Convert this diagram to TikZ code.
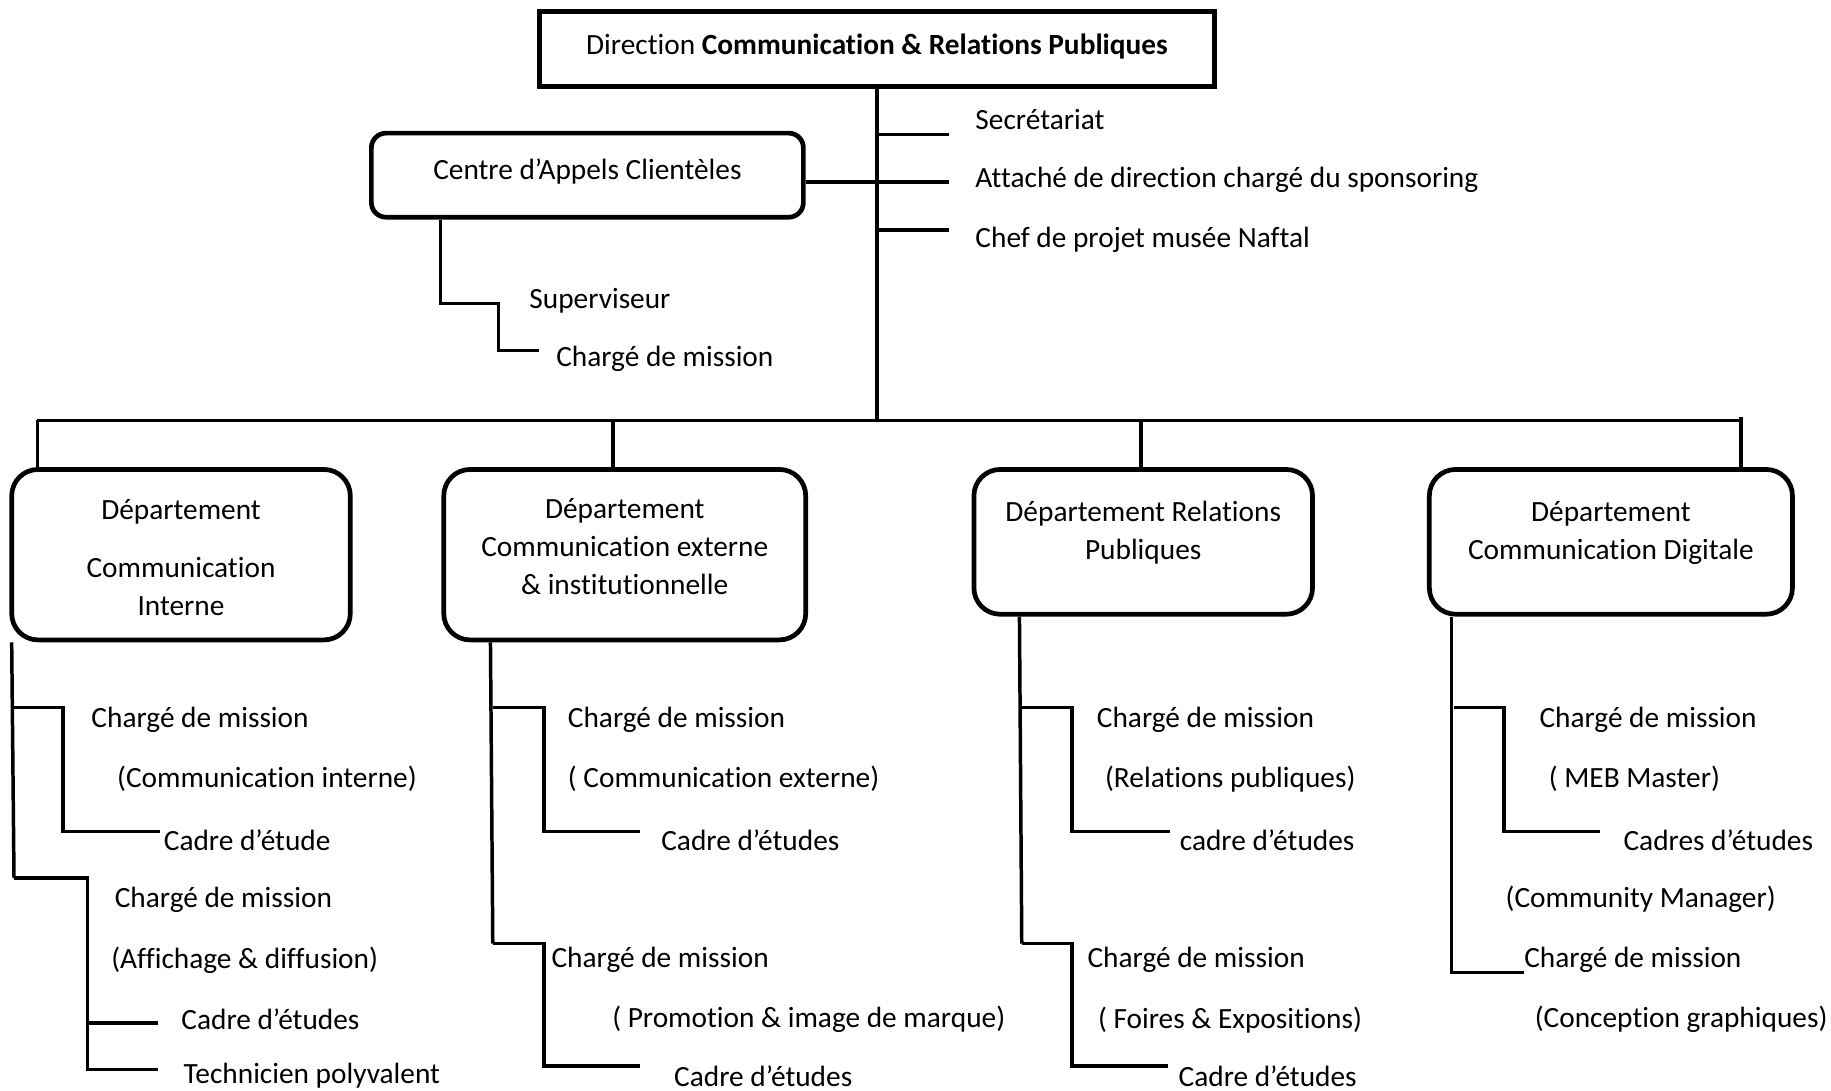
\documentclass[tikz,border=0pt]{standalone}
\usepackage{fontspec}
\setmainfont{Carlito}[Ligatures=NoCommon]
\usetikzlibrary{positioning, calc}

% box text moved up/down without changing the box
\newcommand{\lift}[2]{\raisebox{#1}[\height][\depth]{\begin{tabular}{@{}c@{}}#2\end{tabular}}}

\begin{document}
\begin{tikzpicture}[
  x=0.02cm, y=-0.02cm,
  every node/.style={font=\fontsize{14.3}{18.5}\selectfont},
  topbox/.style={draw, line width=2.6pt, minimum width=11.56cm, minimum height=1.28cm},
  callbox/.style={draw, fill=white, line width=2.3pt, rounded corners=0.25cm,
                  minimum width=7.4cm, minimum height=1.44cm},
  dept/.style={draw, fill=white, line width=2.3pt, rounded corners=0.45cm,
               minimum height=2.92cm},
  post/.style={anchor=west, inner sep=0pt, yshift=-0.045cm},
  link/.style={line width=1.7pt},
]
\useasboundingbox (0,0) rectangle (1568,934);

%% ---- Direction ----
\node[topbox] (dir) at (751,42) {\lift{1.1pt}{Direction \textbf{Communication \& Relations Publiques}}};

\node[post] (secr)  at (835,100) {Secrétariat};
\node[post] (spons) at (835,152) {Attaché de direction chargé du sponsoring};
\node[post] (musee) at (835,203) {Chef de projet musée Naftal};

\coordinate (hub) at (751,360);
\coordinate (t1) at (813,115);
\coordinate (t2) at (813,156);
\coordinate (t3) at (813,197);

\draw[link] (dir.south) -- (hub);
\foreach \t in {t1,t2,t3}
  \draw[link] (\t -| hub) -- (\t);

%% ---- Centre d'appels ----
\node[callbox] (cac) at (503,150) {\lift{1.7pt}{Centre d’Appels Clientèles}};
\draw[link] ([yshift=-0.12cm]cac.east) -- ([yshift=-0.12cm]cac.east -| hub);

\node[post] (sup)  at (453,255) {Superviseur};
\node[post] (cdm0) at (476,305) {Chargé de mission};

\coordinate (cac1) at (427,260);
\coordinate (cac2) at (462,300);
\draw[link] ($(cac.south west)+(61,0)$) |- (cac1) |- (cac2);

%% ---- Departments ----
\node[dept, minimum width=5.8cm] (d1) at (155,475)
  {\lift{-2.6pt}{Département\\[10pt]Communication\\Interne}};
\node[dept, minimum width=6.2cm] (d2) at (535,475)
  {\lift{2.8pt}{Département\\Communication externe\\\& institutionnelle}};
\node[dept, minimum width=5.8cm, minimum height=2.48cm] (d3) at (979,464)
  {\lift{4.2pt}{Département Relations\\Publiques}};
\node[dept, minimum width=6.22cm, minimum height=2.48cm] (d4) at (1379.5,464)
  {\lift{4.2pt}{Département\\Communication Digitale}};

\coordinate (bus1) at (32,360);
\coordinate (bus2) at (525,360);
\coordinate (bus3) at (977,360);
\coordinate (bus4) at (1491,360);

\draw[link] (bus1) -- (bus4);
\draw[link] (bus1) -- (bus1 |- d1.north);
\draw[link] (bus2) -- (bus2 |- d2.north);
\draw[link] (bus3) -- (bus3 |- d3.north);
\draw[link] ([yshift=0.06cm]bus4) -- (bus4 |- d4.north);

%% ---- Communication interne ----
\node[post] (d1p1)  at (78,614)  {Chargé de mission};
\node[post] (d1p1b) at (100,665) {(Communication interne)};
\node[post] (d1p2)  at (140,717) {Cadre d’étude};
\node[post] (d1p3)  at (98,768)  {Chargé de mission};
\node[post] (d1p3b) at (95,820)  {(Affichage \& diffusion)};
\node[post] (d1p4)  at (155,871) {Cadre d’études};
\node[post] (d1p5)  at (157,919) {Technicien polyvalent};

\coordinate (d1j1) at (12,606);
\coordinate (d1j2) at (12,752);
\coordinate (d1e1) at (137,712);
\coordinate (d1e2) at (135,876);
\coordinate (d1e3) at (135,916);

\draw[link] ($(d1.south west)+(2,0)$) -- (d1j2);
\draw[link] (d1j1) -- ++(42,0) |- (d1e1);
\draw[link] (d1j2) -- ++(63,0) coordinate (d1k) |- (d1e3);
\draw[link] (d1k |- d1e2) -- (d1e2);

%% ---- Communication externe ----
\node[post] (d2p1)  at (486,614) {Chargé de mission};
\node[post] (d2p1b) at (486,665) {( Communication externe)};
\node[post] (d2p2)  at (566,717) {Cadre d’études};
\node[post] (d2p3)  at (472,820) {Chargé de mission};
\node[post] (d2p3b) at (524,871) {( Promotion \& image de marque)};
\node[post] (d2p4)  at (577,919) {Cadre d’études};

\coordinate (d2j1) at (422,606);
\coordinate (d2j2) at (422,808);
\coordinate (d2e1) at (548,712);
\coordinate (d2e2) at (548,913);

\draw[link] ($(d2.south west)+(42,0)$) -- (d2j2);
\draw[link] (d2j1) -- ++(44,0) |- (d2e1);
\draw[link] (d2j2) -- ++(44,0) |- (d2e2);

%% ---- Relations publiques ----
\node[post] (d3p1)  at (939,614)  {Chargé de mission};
\node[post] (d3p1b) at (946,665)  {(Relations publiques)};
\node[post] (d3p2)  at (1010,717) {cadre d’études};
\node[post] (d3p3)  at (931,820)  {Chargé de mission};
\node[post] (d3p3b) at (940,871)  {( Foires \& Expositions)};
\node[post] (d3p4)  at (1009,919) {Cadre d’études};

\coordinate (d3j1) at (875,606);
\coordinate (d3j2) at (875,808);
\coordinate (d3e1) at (1002,712);
\coordinate (d3e2) at (1000,913);

\draw[link] ($(d3.south west)+(41,0)$) -- (d3j2);
\draw[link] (d3j1) -- ++(43,0) |- (d3e1);
\draw[link] (d3j2) -- ++(43,0) |- (d3e2);

%% ---- Communication digitale ----
\node[post] (d4p1)  at (1318,614) {Chargé de mission};
\node[post] (d4p1b) at (1326,665) {( MEB Master)};
\node[post] (d4p2)  at (1390,717) {Cadres d’études};
\node[post] (d4p2b) at (1289,768) {(Community Manager)};
\node[post] (d4p3)  at (1305,820) {Chargé de mission};
\node[post] (d4p3b) at (1314,871) {(Conception graphiques)};

\coordinate (d4j1) at (1245,606);
\coordinate (d4e1) at (1370,712);
\coordinate (d4e2) at (1305,833);

\draw[link] ($(d4.south west)+(21,0)$) |- (d4e2);
\draw[link] (d4j1) -- ++(43,0) |- (d4e1);

\end{tikzpicture}
\end{document}
